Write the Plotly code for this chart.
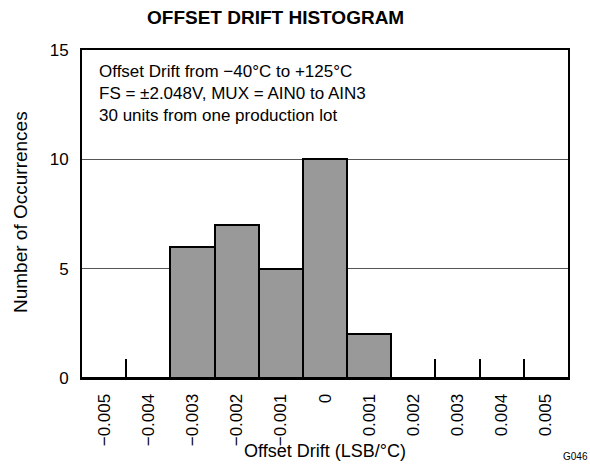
import plotly.graph_objects as go

# histogram bins (LSB/°C) and counts
bins = ["\u22120.005", "\u22120.004", "\u22120.003", "\u22120.002", "\u22120.001", "0",
        "0.001", "0.002", "0.003", "0.004", "0.005"]
counts = [0, 0, 6, 7, 5, 10, 2, 0, 0, 0, 0]
y_ticks = [0, 5, 10, 15]

note_lines = [
    "Offset Drift from \u221240\u00b0C to +125\u00b0C",
    "FS = \u00b12.048V, MUX = AIN0 to AIN3",
    "30 units from one production lot",
]

FONT = "Liberation Sans, Arial, sans-serif"

fig = go.Figure()
fig.add_trace(go.Bar(
    x=bins,
    y=counts,
    width=1,
    marker=dict(color="#999999", line=dict(color="black", width=2)),
    hoverinfo="x+y",
))

fig.update_layout(
    width=590, height=465,
    margin=dict(l=82, r=22, t=50, b=87),
    paper_bgcolor="white",
    plot_bgcolor="white",
    showlegend=False,
    bargap=0,
    font=dict(family=FONT, size=17, color="black"),
)

fig.update_xaxes(
    type="category",
    range=[-0.5, 10.5],
    tickangle=-90,
    ticks="inside", tickson="boundaries", ticklen=19, tickwidth=2, tickcolor="black",
    ticklabelstandoff=7,
    showline=True, linecolor="black", linewidth=2, mirror=True,
    showgrid=False, zeroline=False,
    layer="below traces",
    tickfont=dict(size=17),
)
fig.update_yaxes(
    range=[0, 15],
    tickvals=y_ticks,
    ticks="", ticklabelstandoff=8,
    showline=True, linecolor="black", linewidth=2, mirror=True,
    showgrid=True, gridcolor="#555555", gridwidth=1,
    zeroline=False,
    layer="below traces",
    tickfont=dict(size=17),
)

# chart title
fig.add_annotation(text="<b>OFFSET DRIFT HISTOGRAM</b>", xref="paper", yref="paper",
                   x=0.399, y=1.0, yshift=33, xanchor="center", yanchor="middle",
                   showarrow=False, font=dict(size=19))

# axis titles
fig.add_annotation(text="Offset Drift (LSB/\u00b0C)", xref="paper", yref="paper",
                   x=0.5, y=0, yshift=-73, xanchor="center", yanchor="middle",
                   showarrow=False, font=dict(size=18))
fig.add_annotation(text="Number of Occurrences", xref="paper", yref="paper",
                   x=0, xshift=-62, y=0.5, yshift=2, textangle=-90,
                   xanchor="center", yanchor="middle",
                   showarrow=False, font=dict(size=19))

# conditions note
fig.add_annotation(text="<br>".join(note_lines), xref="paper", yref="paper",
                   x=0.031, y=0.97, xanchor="left", yanchor="top", align="left",
                   showarrow=False, font=dict(size=17))

# figure id
fig.add_annotation(text="G046", xref="paper", yref="paper",
                   x=1.0, xshift=22, y=0, yshift=-78, xanchor="right", yanchor="middle",
                   showarrow=False, font=dict(size=10))

fig.write_html("out.html", config={"displayModeBar": False},
               post_script="document.body.style.margin='0px';")
